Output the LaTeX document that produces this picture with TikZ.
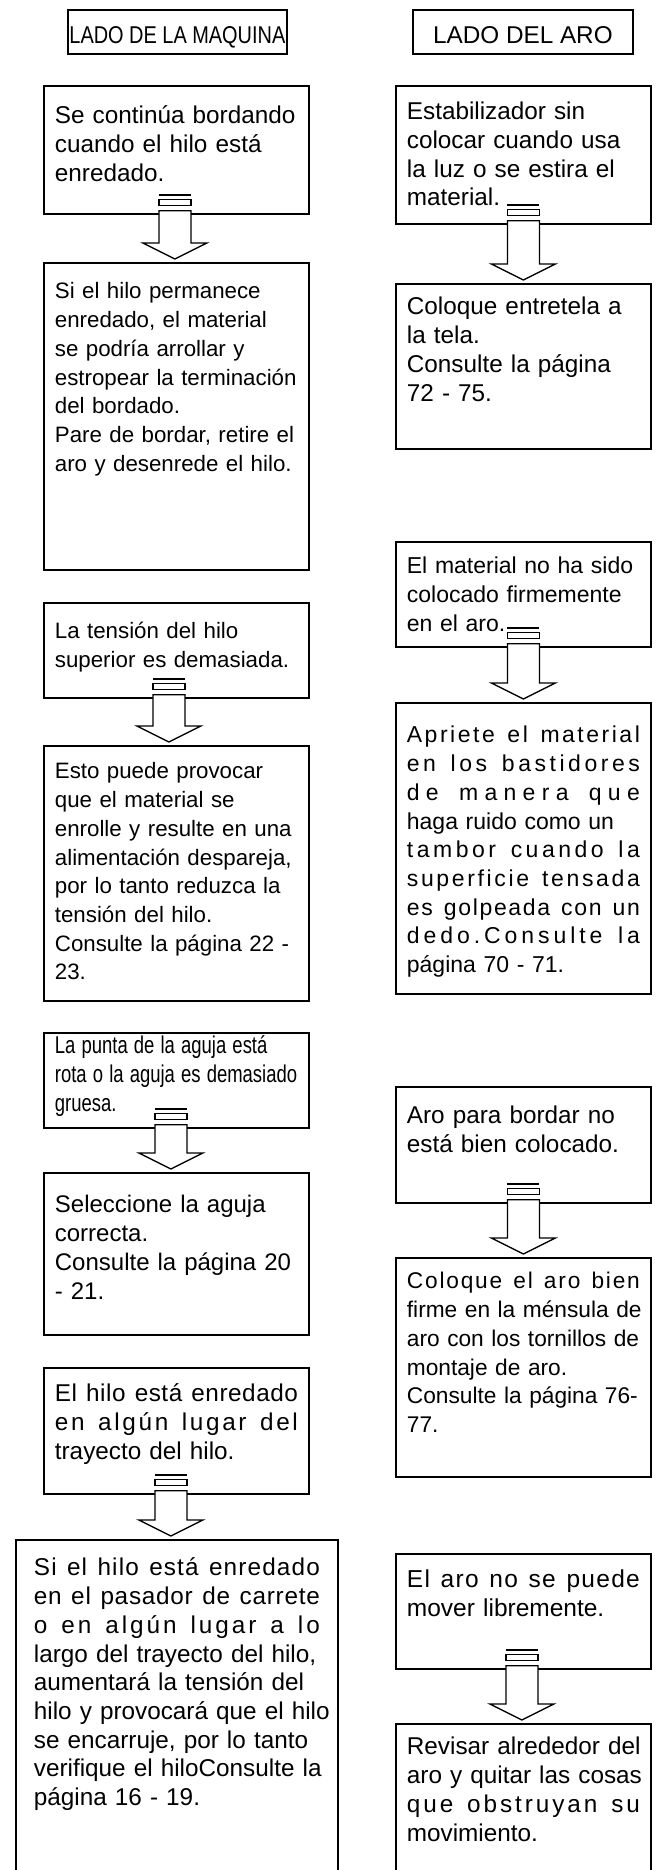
\documentclass[tikz,border=0pt]{standalone}
\usepackage{fontspec}
\usepackage{graphicx}
\setmainfont{Liberation Sans}
\usetikzlibrary{calc}

\newcommand\cuerpo[1][24.3]{\fontsize{#1pt}{28.7pt}\selectfont}
% texto estrechado horizontalmente
\newcommand\angosto[2][0.76]{\scalebox{#1}[1]{#2}}
% linea justificada (solo espacios entre palabras)
\newcommand\jl[1]{\makebox[\linewidth][s]{#1}}
% linea justificada repartiendo el espacio entre letras
\makeatletter
\def\ls@nil{\ls@nil@}
\def\ls@glue{\hskip 0pt plus 1fil\relax}
\def\ls@chars#1{#1\ls@rest}
\def\ls@rest#1{\ifx\ls@nil#1\else\ls@glue#1\expandafter\ls@rest\fi}
\def\ls@words#1 #2\ls@end{\ls@chars#1\ls@nil
  \if\relax\detokenize{#2}\relax\else\ls@glue\ \ls@glue\ls@words#2\ls@end\fi}
\newcommand\dl[1]{\makebox[\linewidth][s]{\ls@words#1 \ls@end}}
\makeatother

\tikzset{
  caja/.style={draw, line width=1.8, anchor=north west, inner xsep=11pt, inner ysep=0pt, align=left, font=\cuerpo},
  izq/.style={caja, text width=243pt},
  der/.style={caja, text width=233pt},
  titulo/.style={draw, line width=1.8, anchor=north west, inner sep=0pt, align=center,
    text height=34pt, text depth=10pt, font=\cuerpo},
  flecha/.style={draw, fill=white, line width=1.3}
}

\begin{document}
\begin{tikzpicture}[x=1pt, y=-1pt]
    \useasboundingbox (0,0) rectangle (658,1870);
    \clip (0,0) rectangle (658,1870);

    % 1. Titulos de las columnas
    \node[titulo, minimum width=219pt] (tm) at (67,9) {\angosto[0.82]{LADO DE LA MAQUINA}};
    \node[titulo, minimum width=220pt] (ta) at (412,9) {LADO DEL ARO};

    % 2. Lado de la maquina
    \node[izq, text height=38pt, text depth=90pt] (m1) at (43,85)
        {Se continúa bordando\\ cuando el hilo está\\ enredado.};
    \node[izq, text height=36pt, text depth=271pt, font={\cuerpo[22.3]}] (m2) at (43,262)
        {Si el hilo permanece\\ enredado, el material\\ se podría arrollar y\\ estropear la terminación\\
         del bordado.\\ Pare de bordar, retire el\\ aro y desenrede el hilo.};
    \node[izq, text height=36pt, text depth=59pt, font={\cuerpo[22.3]}] (m3) at (43,602)
        {La tensión del hilo\\ superior es demasiada.};
    \node[izq, text height=33pt, text depth=222pt, font={\cuerpo[22.3]}] (m4) at (43,745)
        {Esto puede provocar\\ que el material se\\ enrolle y resulte en una\\ alimentación despareja,\\
         por lo tanto reduzca la\\ tensión del hilo.\\ Consulte la página 22 -\\ 23.};
    \node[izq, text height=21pt, text depth=74pt] (m5) at (43,1032)
        {\angosto{La punta de la aguja está}\\ \angosto{rota o la aguja es demasiado}\\ \angosto{gruesa.}};
    \node[izq, text height=40pt, text depth=122pt, font={\cuerpo[24]}] (m6) at (43,1172)
        {Seleccione la aguja\\ correcta.\\ Consulte la página 20\\ - 21.};
    \node[izq, text height=34pt, text depth=92pt] (m7) at (43,1367)
        {\dl{El hilo está enredado}\\ \dl{en algún lugar del}\\ trayecto del hilo.};
    \node[caja, inner xsep=18pt, text width=286pt, text height=36pt, text depth=315pt] (m8) at (15,1539)
        {\dl{Si el hilo está enredado}\\ \dl{en el pasador de carrete}\\ \dl{o en algún lugar a lo}\\
         \jl{largo del trayecto del hilo,}\\ \jl{aumentará la tensión del}\\ \jl{hilo y provocará que el hilo}\\
         \jl{se encarruje, por lo tanto}\\ \jl{verifique el hiloConsulte la}\\ página 16 - 19.};

    % 3. Lado del aro
    \node[der, text height=34pt, text depth=104pt] (a1) at (395,85)
        {Estabilizador sin\\ colocar cuando usa\\ la luz o se estira el\\ material.};
    \node[der, text height=31pt, text depth=134pt] (a2) at (395,283)
        {Coloque entretela a\\ la tela.\\ Consulte la página\\ 72 - 75.};
    \node[der, text height=32pt, text depth=73pt, font={\cuerpo[23]}] (a3) at (395,541)
        {\jl{El material no ha sido}\\ \jl{colocado firmemente}\\ en el aro.};
    \node[der, text height=40pt, text depth=251pt, font={\cuerpo[23]}] (a4) at (395,702)
        {\dl{Apriete el material}\\ \dl{en los bastidores}\\ \dl{de manera que}\\ \jl{haga ruido como un}\\
         \dl{tambor cuando la}\\ \dl{superficie tensada}\\ \dl{es golpeada con un}\\ \dl{dedo.Consulte la}\\
         página 70 - 71.};
    \node[der, text height=37pt, text depth=79pt] (a5) at (395,1086)
        {Aro para bordar no\\ está bien colocado.};
    \node[der, text height=31pt, text depth=188pt, font={\cuerpo[22.7]}] (a6) at (395,1257)
        {\dl{Coloque el aro bien}\\ \jl{firme en la ménsula de}\\ \jl{aro con los tornillos de}\\
         montaje de aro.\\ Consulte la página 76-\\ 77.};
    \node[der, text height=34pt, text depth=81pt, font={\cuerpo[24.5]}] (a7) at (395,1553)
        {\dl{El aro no se puede}\\ mover libremente.};
    \node[der, text height=31pt, text depth=136pt] (a8) at (395,1723)
        {\jl{Revisar alrededor del}\\ \jl{aro y quitar las cosas}\\ \dl{que obstruyan su}\\ movimiento.};

    % 4. Flechas huecas entre las cajas
    \foreach \a/\b/\s in {m1/m2/-1.5, m3/m4/-7.5, m5/m6/-5.5, m7/m8/-5.5,
                          a1/a2/0, a3/a4/0, a5/a6/0, a7/a8/-1.5}{
        \coordinate (t) at ($(\a.south)+(\s,0)$);
        \coordinate (p) at (t |- \b.north);
        \draw[line width=2.5] ($(t)+(-16,-20)$) -- ($(t)+(16,-20)$);
        \draw[flecha] ($(t)+(-16,-15)$) rectangle ($(t)+(16,-9)$);
        \draw[flecha] ($(t)+(-16,-4)$) -- ($(p)+(-16,-19)$) -- ($(p)+(-32,-19)$) -- ($(p)+(0,-3)$)
            -- ($(p)+(32,-19)$) -- ($(p)+(16,-19)$) -- ($(t)+(16,-4)$) -- cycle;
    }

\end{tikzpicture}
\end{document}
